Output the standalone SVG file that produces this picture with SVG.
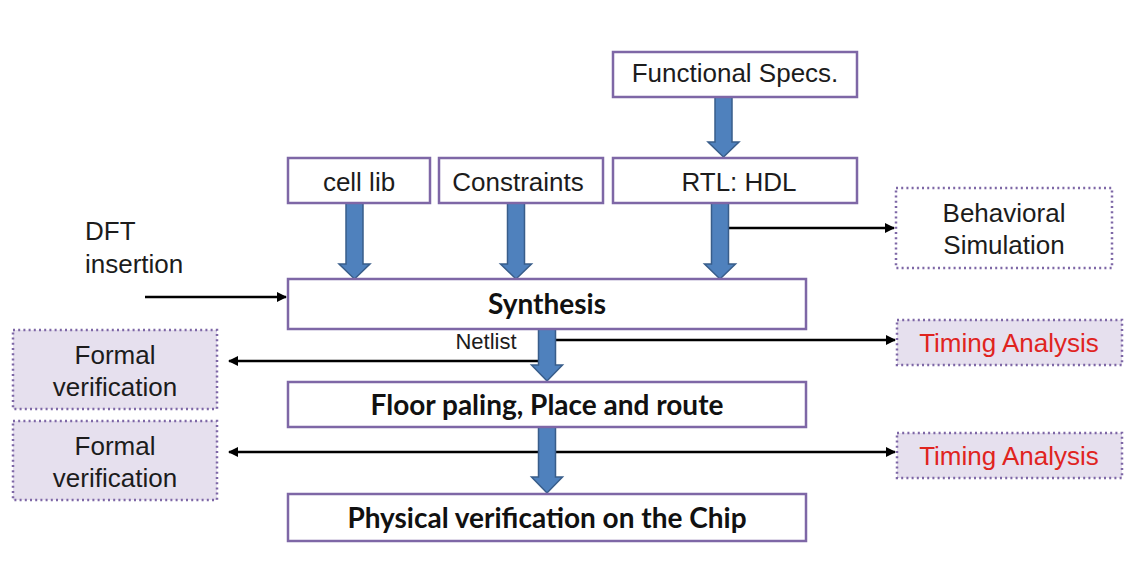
<svg xmlns="http://www.w3.org/2000/svg" width="1134" height="586" viewBox="0 0 1134 586">
  <defs>
    <style>
      .box { fill: #ffffff; stroke: #7e67a6; stroke-width: 2.5; }
      .dot { stroke: #7e67a6; stroke-width: 2.5; stroke-dasharray: 2 3.2; }
      .shade { fill: #e6e0ee; }
      .clear { fill: #ffffff; }
      .lbl { font-family: "Liberation Sans", Arial, sans-serif; font-size: 26px; fill: #1c1c1c; text-anchor: middle; }
      .bold { font-family: Lato, "Liberation Sans", sans-serif; font-weight: 700; font-size: 28px; fill: #111111; text-anchor: middle; }
      .red { fill: #e0241f; }
      .small { font-size: 22px; }
      .flow { fill: #4f81bd; stroke: #385d8a; stroke-width: 1.5; }
      .wire { fill: none; stroke: #000000; stroke-width: 2.5; }
    </style>
    <marker id="tip" viewBox="0 0 10 10" refX="9" refY="5" markerWidth="4.4" markerHeight="4" orient="auto-start-reverse" markerUnits="strokeWidth">
      <path d="M0,0 L10,5 L0,10 Z" fill="#000000"/>
    </marker>
  </defs>

  <rect width="1134" height="586" fill="#ffffff"/>

  <!-- thin connectors -->
  <g id="connectors">
    <line class="wire" x1="145" y1="297" x2="286" y2="297" marker-end="url(#tip)"/>
    <line class="wire" x1="729" y1="228" x2="894" y2="228" marker-end="url(#tip)"/>
    <line class="wire" x1="555" y1="340" x2="895" y2="340" marker-end="url(#tip)"/>
    <line class="wire" x1="540" y1="361" x2="229" y2="361" marker-end="url(#tip)"/>
    <line class="wire" x1="229" y1="452" x2="895" y2="452" marker-start="url(#tip)" marker-end="url(#tip)"/>
  </g>

  <!-- block flow arrows -->
  <g id="flow-arrows">
    <path class="flow" d="M715,97 H732 V142 H739 L723.5,157 L708,142 H715 Z"/>
    <path class="flow" d="M346,203 H363 V264 H370 L354.5,279 L339,264 H346 Z"/>
    <path class="flow" d="M507.5,203 H524.5 V264 H531.5 L516,279 L500.5,264 H507.5 Z"/>
    <path class="flow" d="M711.5,203 H728.5 V264 H735.5 L720,279 L704.5,264 H711.5 Z"/>
    <path class="flow" d="M538.5,329 H555.5 V365 H562.5 L547,381 L531.5,365 H538.5 Z"/>
    <path class="flow" d="M538.5,427 H555.5 V477 H562.5 L547,493 L531.5,477 H538.5 Z"/>
  </g>

  <g id="functional-specs">
    <rect class="box" x="613" y="52" width="244" height="45"/>
    <text class="lbl" x="735" y="82">Functional Specs.</text>
  </g>

  <g id="cell-lib">
    <rect class="box" x="288" y="158" width="142" height="45"/>
    <text class="lbl" x="359" y="191">cell lib</text>
  </g>

  <g id="constraints">
    <rect class="box" x="439" y="158" width="164" height="45"/>
    <text class="lbl" x="518" y="191">Constraints</text>
  </g>

  <g id="rtl-hdl">
    <rect class="box" x="613" y="158" width="244" height="45"/>
    <text class="lbl" x="739" y="191">RTL: HDL</text>
  </g>

  <g id="dft-insertion">
    <text class="lbl" x="85" y="240" style="text-anchor:start">DFT</text>
    <text class="lbl" x="85" y="273" style="text-anchor:start">insertion</text>
  </g>

  <g id="behavioral-simulation">
    <rect class="dot clear" x="896" y="188" width="216" height="80"/>
    <text class="lbl" x="1004" y="222">Behavioral</text>
    <text class="lbl" x="1004" y="254">Simulation</text>
  </g>

  <g id="synthesis">
    <rect class="box" x="288" y="279" width="518" height="50"/>
    <text class="bold" x="547" y="314">Synthesis</text>
  </g>

  <g id="netlist-label">
    <text class="lbl small" x="486" y="349">Netlist</text>
  </g>

  <g id="timing-analysis-1">
    <rect class="dot shade" x="897" y="320" width="225" height="45"/>
    <text class="lbl red" x="1009" y="352">Timing Analysis</text>
  </g>

  <g id="formal-verification-1">
    <rect class="dot shade" x="13" y="330" width="204" height="79"/>
    <text class="lbl" x="115" y="364">Formal</text>
    <text class="lbl" x="115" y="396">verification</text>
  </g>

  <g id="floor-planning">
    <rect class="box" x="288" y="382" width="518" height="45"/>
    <text class="bold" x="547" y="415">Floor paling, Place and route</text>
  </g>

  <g id="formal-verification-2">
    <rect class="dot shade" x="13" y="421" width="204" height="79"/>
    <text class="lbl" x="115" y="455">Formal</text>
    <text class="lbl" x="115" y="487">verification</text>
  </g>

  <g id="timing-analysis-2">
    <rect class="dot shade" x="897" y="433" width="225" height="45"/>
    <text class="lbl red" x="1009" y="465">Timing Analysis</text>
  </g>

  <g id="physical-verification">
    <rect class="box" x="288" y="494" width="518" height="47"/>
    <text class="bold" x="547" y="528">Physical verification on the Chip</text>
  </g>
</svg>
